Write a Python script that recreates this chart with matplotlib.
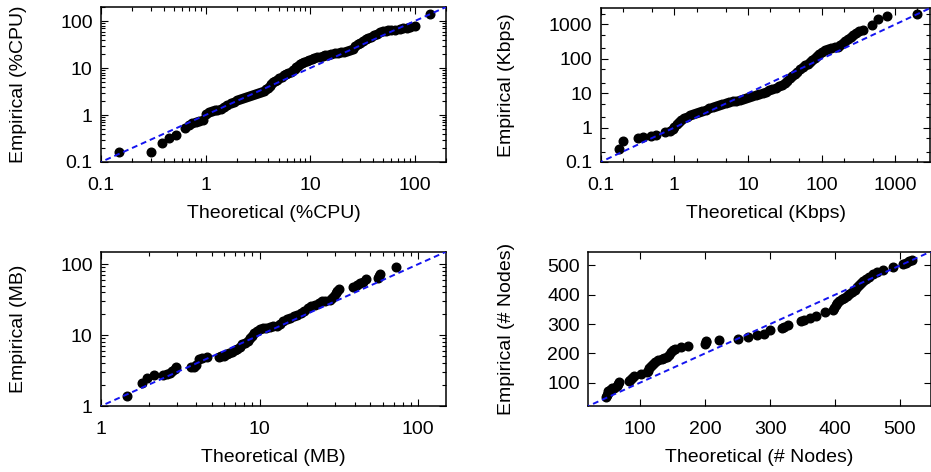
"""Q-Q plots: empirical vs theoretical quantiles for four resource metrics.

Layout: 2 x 2 panels, log axes for CPU / Kbps / MB, linear for # Nodes.
Black dots are the quantile pairs, blue dashed line is y = x.
"""
import matplotlib
matplotlib.use("Agg")
import matplotlib.pyplot as plt
from matplotlib.ticker import LogLocator, FuncFormatter, NullFormatter, FixedLocator

plt.rcParams["font.family"] = ["Liberation Sans", "DejaVu Sans"]

# ── Data (quantile pairs) ────────────────────────────────────────────────────
cpu_theo = [0.15, 0.30, 0.38, 0.45, 0.52,
            0.64, 0.70, 0.75, 0.81, 0.87, 0.94, 1.00, 1.08, 1.15, 1.22,
            1.30, 1.40, 1.50, 1.62, 1.74, 1.88, 2.00, 2.15, 2.30, 2.45,
            2.62, 2.80, 3.00, 3.20, 3.40, 3.60, 3.80, 3.95, 4.10, 4.25,
            4.40, 4.60, 4.85, 5.10, 5.35, 5.60, 5.90, 6.20, 6.50, 6.80,
            7.10, 7.40, 7.70, 8.00, 8.40, 8.80, 9.30, 9.80, 10.4, 11.0,
            11.7, 12.4, 13.2, 14.0, 15.0, 16.0, 17.2, 18.4, 19.7, 21.0,
            22.5, 24.0, 25.5, 27.0, 28.5, 30.0, 32.0, 34.0, 36.0, 38.5,
            41.0, 44.0, 47.0, 50.0, 53.0, 56.0, 60.0, 65.0, 72.0, 78.0,
            84.0, 90.0, 100.0, 140.0]
cpu_emp = [0.16, 0.165, 0.25, 0.33, 0.37,
           0.52, 0.62, 0.68, 0.71, 0.74, 0.80, 1.05, 1.15, 1.20, 1.25,
           1.30, 1.33, 1.45, 1.62, 1.78, 1.92, 2.10, 2.22, 2.35, 2.45,
           2.55, 2.72, 2.85, 2.98, 3.10, 3.25, 3.50, 3.80, 4.20, 4.60,
           5.00, 5.40, 5.70, 6.10, 6.60, 7.10, 7.60, 8.00, 8.40, 8.90,
           9.60, 10.5, 11.3, 12.0, 12.8, 13.6, 14.4, 15.2, 15.8, 16.4,
           17.0, 17.6, 18.2, 18.8, 19.4, 20.0, 20.6, 21.2, 21.8, 22.4,
           23.0, 24.0, 26.0, 29.0, 32.0, 35.0, 38.0, 41.0, 44.0, 47.0,
           50.0, 54.0, 58.0, 61.0, 63.0, 64.0, 65.0, 66.0, 68.0, 70.0,
           72.0, 74.0, 77.0, 145.0]

kbps_theo = [0.175, 0.20, 0.32, 0.37, 0.48, 0.57, 0.75, 0.86,
             0.95, 1.00, 1.08, 1.16, 1.25, 1.36, 1.48, 1.62, 1.78, 1.95,
             2.15, 2.40, 2.70, 3.00, 3.35, 3.70, 4.10, 4.50, 5.00, 5.60,
             6.20, 6.90, 7.70, 8.50, 9.40, 10.4, 11.5, 12.8, 14.2, 15.8,
             17.5, 19.5, 21.5, 24.0, 26.5, 29.0, 31.5, 34.0, 37.0, 40.0,
             43.5, 47.0, 51.0, 55.0, 60.0, 65.0, 70.0, 75.0, 80.0, 86.0,
             93.0, 100, 110, 122, 135, 150, 165, 180, 195, 210,
             228, 248, 270, 295, 325, 360, 490, 590, 780, 2000]
kbps_emp = [0.24, 0.42, 0.50, 0.55, 0.58, 0.62, 0.72, 0.82,
            0.92, 1.05, 1.25, 1.45, 1.65, 1.85, 2.05, 2.25, 2.45, 2.65,
            2.85, 3.10, 3.35, 3.60, 3.85, 4.15, 4.50, 4.85, 5.20, 5.50,
            5.80, 6.10, 6.45, 6.80, 7.20, 7.60, 8.10, 8.70, 9.40, 10.2,
            11.1, 12.2, 13.3, 14.6, 16.0, 17.8, 20.0, 23.0, 27.0, 31.0,
            36.0, 42.0, 49.0, 56.0, 64.0, 72.0, 80.0, 92.0, 105, 120,
            140, 160, 180, 195, 205, 215, 225, 245, 280, 320,
            370, 430, 490, 560, 630, 700, 990, 1450, 1700, 2000]

mb_theo = [1.45, 1.82, 1.94, 2.15, 2.45, 2.60, 2.72, 2.82, 2.92, 2.97,
           3.70, 3.85, 4.00, 4.15, 4.35, 4.65, 5.55, 5.75, 6.00, 6.20,
           6.45, 6.70, 6.95, 7.20, 7.50, 7.75, 8.05, 8.40, 8.70, 8.95,
           9.25, 9.60, 10.0, 10.5, 11.0, 11.6, 12.2, 12.8, 13.4, 14.0,
           14.8, 15.6, 16.4, 17.3, 18.2, 19.2, 20.2, 21.2, 22.4, 23.6,
           24.8, 26.0, 27.8, 28.8, 29.5, 30.2, 31.0, 31.5, 39.0, 41.0,
           43.0, 45.0, 47.0, 55.5, 56.5, 57.5, 72.0]
mb_emp = [1.37, 2.12, 2.52, 2.70, 2.78, 2.85, 2.95, 3.10, 3.35, 3.55,
          3.52, 3.60, 3.75, 4.55, 4.72, 4.92, 4.90, 5.00, 5.10, 5.35,
          5.55, 5.80, 6.10, 6.40, 6.90, 7.40, 7.80, 8.20, 9.00, 9.80,
          10.8, 11.6, 12.2, 12.5, 12.8, 13.1, 13.3, 13.6, 14.5, 15.7,
          16.8, 17.6, 18.4, 19.5, 20.8, 22.0, 24.0, 25.5, 26.5, 28.0,
          29.8, 30.5, 31.5, 33.5, 36.0, 39.0, 42.5, 44.5, 48.0, 51.0,
          54.0, 57.0, 61.0, 63.0, 68.0, 72.0, 91.0]

nodes_theo = [48, 49, 50, 51, 53, 56, 60, 64, 66, 67,
              82, 84, 87, 90, 101, 110, 112, 114, 116, 119,
              123, 127, 133, 137, 141, 145, 148, 151, 153, 163,
              174, 200, 201, 202, 222, 250, 266, 280, 290, 300,
              318, 322, 327, 348, 352, 361, 370, 384, 397, 399,
              401, 403, 406, 410, 414, 418, 422, 426, 430, 434,
              437, 440, 443, 447, 452, 458, 464, 474, 489, 504,
              509, 514, 518]
nodes_emp = [50, 58, 66, 71, 76, 80, 82, 88, 96, 101,
             106, 110, 116, 121, 130, 135, 140, 150, 157, 165,
             172, 178, 182, 185, 189, 195, 203, 212, 216, 222,
             225, 232, 238, 242, 244, 250, 256, 262, 265, 278,
             288, 291, 297, 310, 315, 322, 328, 340, 347, 355,
             365, 372, 380, 385, 390, 395, 401, 408, 415, 425,
             433, 440, 447, 455, 462, 471, 478, 484, 495, 505,
             510, 514, 518]

# (theo, emp, unit, log?, limits, minor subs, axes rect in figure fraction, ylabel x)
PANELS = [
    (cpu_theo, cpu_emp, "%CPU", True, (0.1, 200), (2, 3, 4, 5, 6, 7, 8, 9),
     [0.1085, 0.6568, 0.3706, 0.3284], -0.238),
    (kbps_theo, kbps_emp, "Kbps", True, (0.1, 3000), (2, 5),
     [0.6452, 0.6568, 0.3542, 0.3263], -0.285),
    (mb_theo, mb_emp, "MB", True, (1, 150), (2, 3, 4, 5, 6, 7, 8, 9),
     [0.1085, 0.1398, 0.3706, 0.3269], -0.238),
    (nodes_theo, nodes_emp, "# Nodes", False, (20, 547), None,
     [0.6319, 0.1398, 0.3676, 0.3269], -0.239),
]

FS = 14

fig = plt.figure(figsize=(9.31, 4.72), dpi=100)

for theo, emp, unit, is_log, lims, subs, rect, ylab_x in PANELS:
    ax = fig.add_axes(rect)

    ax.plot(theo, emp, "o", color="black", markersize=6.2, zorder=2)
    ref = [lims[0] / 10, lims[1] * 10] if is_log else [0, 1000]
    ax.plot(ref, ref, color="#1414f0", linestyle=(0, (3.0, 2.0)),
            linewidth=1.4, zorder=3)

    if is_log:
        ax.set_xscale("log")
        ax.set_yscale("log")
        for axis in (ax.xaxis, ax.yaxis):
            axis.set_major_locator(LogLocator(base=10, numticks=12))
            axis.set_minor_locator(LogLocator(base=10, subs=subs, numticks=12))
            axis.set_major_formatter(FuncFormatter(lambda v, _: f"{v:g}"))
            axis.set_minor_formatter(NullFormatter())
    else:
        ticks = [100, 200, 300, 400, 500]
        ax.xaxis.set_major_locator(FixedLocator(ticks))
        ax.yaxis.set_major_locator(FixedLocator(ticks))

    ax.set_xlim(*lims)
    ax.set_ylim(*lims)

    ax.tick_params(which="both", direction="in", top=True, right=True,
                   width=0.8, color="black", labelsize=FS)
    ax.tick_params(which="major", length=5)
    ax.tick_params(which="minor", length=2.6)
    ax.tick_params(axis="x", which="major", pad=10.5)
    ax.tick_params(axis="y", which="major", pad=6)
    for sp in ax.spines.values():
        sp.set_linewidth(1.1)

    ax.set_xlabel(f"Theoretical ({unit})", fontsize=FS)
    ax.set_ylabel(f"Empirical ({unit})", fontsize=FS)
    ax.xaxis.set_label_coords(0.5, -0.335)
    ax.xaxis.label.set_va("center")
    ax.yaxis.set_label_coords(ylab_x, 0.5)
    ax.yaxis.label.set_va("center")

fig.savefig("out.png", dpi=100)
